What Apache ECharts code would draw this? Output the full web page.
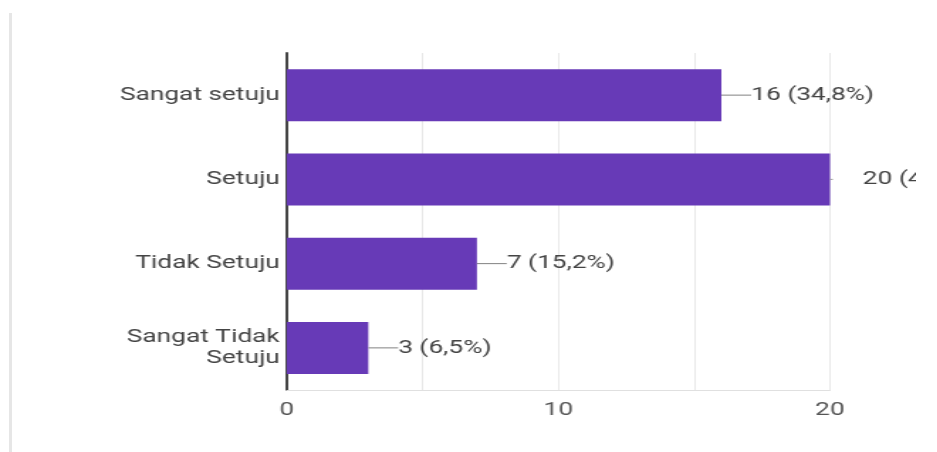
<!DOCTYPE html>
<html>
<head>
<meta charset="utf-8">
<script src="https://cdn.jsdelivr.net/npm/echarts@6/dist/echarts.min.js"></script>
<style>
  html, body { margin: 0; padding: 0; background: #fff; }
  #frame { position: absolute; left: 0; top: 0; width: 916px; height: 452px; overflow: hidden; }
  #chart { width: 645px; height: 452px; transform: scaleX(1.42); transform-origin: 0 0; }
  #edge { position: absolute; left: 9px; top: 13px; width: 3px; height: 439px; background: #e6e6e6; }
</style>
</head>
<body>
<div id="edge"></div>
<div id="frame"><div id="chart"></div></div>
<script>
// Survey answers and their counts
const categories = ['Sangat setuju', 'Setuju', 'Tidak Setuju', 'Sangat Tidak\nSetuju'];
const counts = [16, 20, 7, 3];
const xTicks = [0, 10, 20];

const total = counts.reduce((a, b) => a + b, 0);
const pct = v => (v / total * 100).toFixed(1).replace('.', ',') + '%';

const FONT = 'Roboto, "Noto Sans", sans-serif';
const FS = 18.5;
const maxCount = Math.max(...counts);

const barData = counts.map(v => {
  const isMax = v === maxCount;
  return {
    value: v,
    label: {
      formatter: isMax
        ? '{tick| }{gap| }{t|' + v + ' (' + pct(v) + ')}'
        : '{l| }{t|' + v + ' (' + pct(v) + ')}'
    }
  };
});

const chart = echarts.init(document.getElementById('chart'), null, { renderer: 'canvas' });
chart.setOption({
  animation: false,
  backgroundColor: 'transparent',
  textStyle: { fontFamily: FONT },
  grid: { left: 202, right: 60.5, top: 53, bottom: 62, containLabel: false },
  xAxis: {
    type: 'value',
    min: xTicks[0],
    max: xTicks[xTicks.length - 1],
    interval: xTicks[1] - xTicks[0],
    axisLine: { show: true, lineStyle: { color: '#e0e0e0', width: 1 } },
    axisTick: { show: false },
    axisLabel: { color: '#555', fontSize: FS, fontFamily: FONT, margin: 11 },
    splitLine: { show: true, lineStyle: { color: '#e8e8e8', width: 1 } },
    minorTick: { show: false, splitNumber: 2 },
    minorSplitLine: { show: true, lineStyle: { color: '#e8e8e8', width: 1 } }
  },
  yAxis: {
    type: 'category',
    inverse: true,
    data: categories,
    axisLine: { show: true, lineStyle: { color: '#333', width: 1.8 } },
    axisTick: { show: false },
    axisLabel: { color: '#444', fontSize: FS, fontFamily: FONT, margin: 5, lineHeight: 21 }
  },
  series: [{
    type: 'bar',
    data: barData,
    barWidth: 52,
    itemStyle: { color: '#673ab7' },
    label: {
      show: true,
      position: 'right',
      distance: 0,
      rich: {
        l: { width: 21, height: 1, backgroundColor: '#808080' },
        tick: { width: 2, height: 1, backgroundColor: '#9a9a9a' },
        gap: { width: 21 },
        t: { color: '#444', fontSize: FS, fontFamily: FONT }
      }
    }
  }]
});
</script>
</body>
</html>
